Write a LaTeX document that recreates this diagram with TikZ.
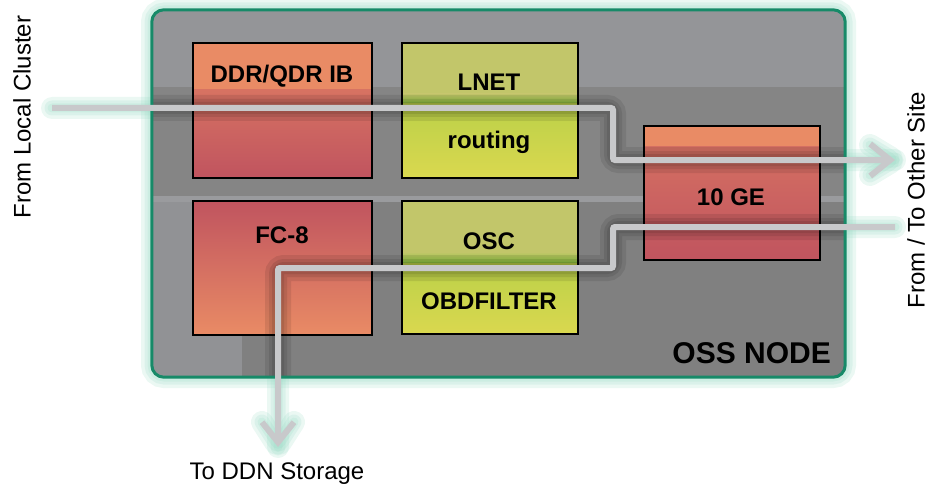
\documentclass[tikz,border=0pt]{standalone}
\usepackage{fontspec}
\setmainfont{Liberation Sans}
\usetikzlibrary{arrows.meta}
\definecolor{bgtop}{HTML}{949598}
\definecolor{bgband}{HTML}{858585}
\definecolor{bglow}{HTML}{808080}
\definecolor{bgcol}{HTML}{919295}
\definecolor{bgstripe}{HTML}{9A9B9E}
\definecolor{framec}{HTML}{178A68}
\definecolor{glowc}{HTML}{8ED6BE}
\definecolor{wire}{HTML}{C8C9CB}
\definecolor{orng}{HTML}{E98B65}
\definecolor{rd}{HTML}{C0545F}
\definecolor{olive}{HTML}{C2C66A}
\definecolor{grn}{HTML}{8DC63F}
\definecolor{yel}{HTML}{DAD84F}
\begin{document}
\begin{tikzpicture}[x=1pt,y=-1pt,
  lbl/.style={font=\fontsize{24}{28}\selectfont\bfseries, inner sep=0pt, anchor=base},
  side/.style={font=\fontsize{24}{28}\selectfont, inner sep=0pt},
  unit/.style={draw=black, line width=1.5pt, inner sep=0pt},
  wireln/.style={draw=wire, line width=6pt, rounded corners=2pt},
  shadowln/.style={draw=black, line width=#1, opacity=0.09, rounded corners=6pt},
  glowln/.style={draw=glowc, line width=#1, opacity=0.18, line cap=round, rounded corners=6pt},
  tipend/.style={-{Straight Barb[length=20pt,width=32pt]}}
]
\useasboundingbox (0,0) rectangle (930,487);

% named endpoints
\coordinate (lcin) at (52,108);
\coordinate (ostout) at (895,160);
\coordinate (ostin) at (895,227);
\coordinate (ddn) at (278,447);

% outer glow
\foreach \w in {22,15,9} {
  \draw[draw=glowc, line width=\w pt, opacity=0.18, rounded corners=12pt] (152,10) rectangle (845,377);
  \draw[glowln=\w pt] (lcin) -- (613,108) -- (613,160) -- (ostout);
  \draw[glowln=\w pt] (ostin) -- (613,227) -- (613,268) -- (278,268) -- (ddn);
  \draw[glowln=\w pt] (870,145) -- (ostout) -- (870,175);
  \draw[glowln=\w pt] (262,422) -- (ddn) -- (294,422);
}

% OSS node background
\node[fill=bgtop, rounded corners=12pt, minimum width=693pt, minimum height=367pt, inner sep=0pt] (oss) at (498.5,193.5) {};
\begin{scope}
  \clip[rounded corners=12pt] (oss.north west) rectangle (oss.south east);
  \fill[bgband] (150,87) rectangle (850,196);
  \fill[bgstripe] (150,196) rectangle (850,202);
  \fill[bgcol] (150,202) rectangle (242,380);
  \fill[bglow] (242,202) rectangle (850,380);
\end{scope}

% box fills
% DDR/QDR IB
\fill[orng] (193,43) rectangle (372,90);
\shade[top color=orng!55!rd, bottom color=rd] (193,90) rectangle (372,178);
% LNET routing
\fill[olive] (402,43) rectangle (578,94);
\shade[top color=olive, bottom color=grn] (402,94) rectangle (578,104);
\shade[top color=grn!40!yel, bottom color=yel] (402,104) rectangle (578,178);
% FC-8
\shade[top color=rd, bottom color=orng] (193,201) rectangle (372,335);
% OSC OBDFILTER
\fill[olive] (402,201) rectangle (578,252);
\shade[top color=olive, bottom color=grn] (402,252) rectangle (578,263);
\shade[top color=grn!40!yel, bottom color=yel] (402,263) rectangle (578,334);
% 10 GE
\fill[orng] (644,126) rectangle (820,146);
\shade[top color=orng!50!rd, bottom color=rd] (644,146) rectangle (820,260);

% box outlines
\node[unit, minimum width=179pt, minimum height=135pt] (ddr) at (282.5,110.5) {};
\node[unit, minimum width=176pt, minimum height=135pt] (lnet) at (490,110.5) {};
\node[unit, minimum width=179pt, minimum height=134pt] (fc) at (282.5,268) {};
\node[unit, minimum width=176pt, minimum height=133pt] (osc) at (490,267.5) {};
\node[unit, minimum width=176pt, minimum height=134pt] (ge) at (732,193) {};

% line shadows inside node
\begin{scope}
  \clip[rounded corners=12pt] (oss.north west) rectangle (oss.south east);
  \foreach \w in {26,18,12} {
    \draw[shadowln=\w pt] (lcin) -- (613,108) -- (613,160) -- (ostout);
    \draw[shadowln=\w pt] (ostin) -- (613,227) -- (613,268) -- (278,268) -- (ddn);
  }
\end{scope}

% labels
\node[lbl] (tddr) at (282,83) {DDR/QDR IB};
\node[lbl] (tlnet) at (489,91) {LNET};
\node[lbl] (trout) at (489,148) {routing};
\node[lbl] (tfc) at (282,243) {FC-8};
\node[lbl] (tosc) at (489,249) {OSC};
\node[lbl] (tobd) at (489,309) {OBDFILTER};
\node[lbl] (tge) at (731,205) {10 GE};
\node[font=\fontsize{30}{34}\selectfont\bfseries, inner sep=0pt, anchor=base east] (toss) at (831,363) {OSS NODE};

\node[side, rotate=90] (tlc) at (22,117) {From Local Cluster};
\node[side, rotate=90] (tos) at (916,200) {From / To Other Site};
\node[side] (tddn) at (277,474) {To DDN Storage};

% frame
\draw[framec, line width=3pt, rounded corners=12pt] (oss.north west) rectangle (oss.south east);

% connectors
\draw[wireln, tipend] (lcin) -- (613,108) -- (613,160) -- (ostout);
\draw[wireln, tipend] (ostin) -- (613,227) -- (613,268) -- (278,268) -- (ddn);
\end{tikzpicture}
\end{document}
